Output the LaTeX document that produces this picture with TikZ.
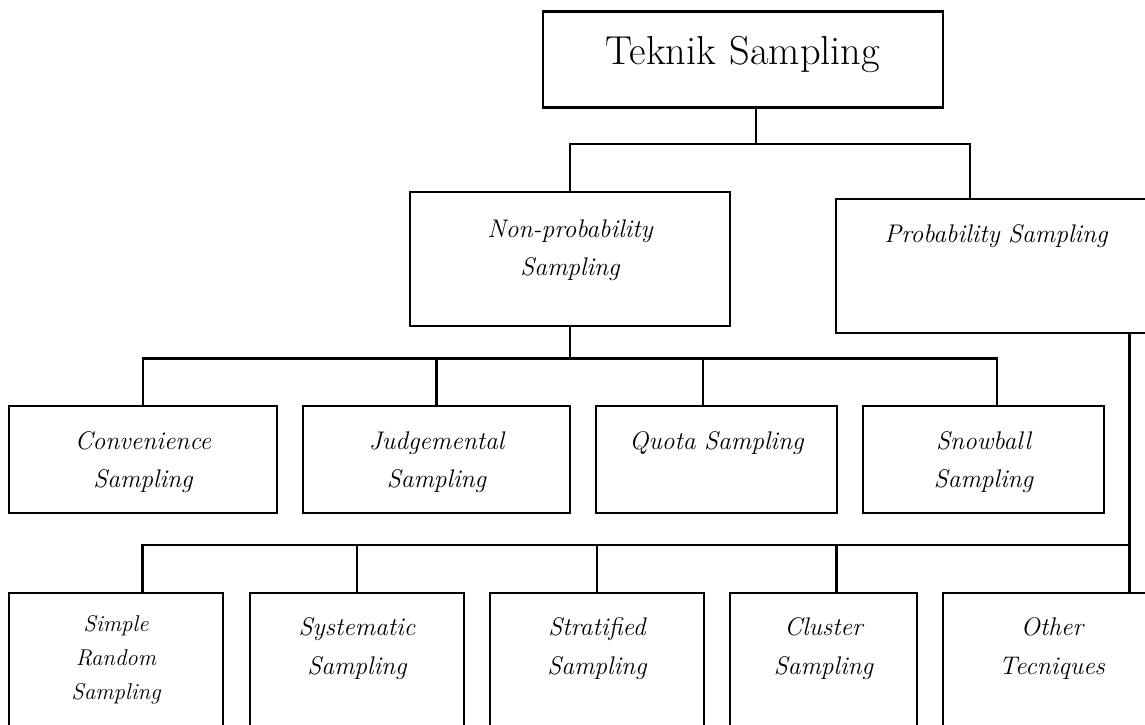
\documentclass[tikz,border=0pt]{standalone}
\begin{document}
\begin{tikzpicture}[
  box/.style={draw, line width=1.2pt, anchor=north, align=center, inner sep=0pt,
    text width=#1, text height=0.86cm, font=\itshape\fontsize{14.5}{22}\selectfont},
  link/.style={line width=1.2pt}]
\useasboundingbox (0,0) rectangle (22.9,14.48);
\clip (0,0) rectangle (22.9,14.48);
% top
\node[box=8.01cm, text height=1.05cm, text depth=0.87cm, font=\fontsize{23}{28}\selectfont] (tek) at (14.86,14.27) {Teknik Sampling};
% second level
\node[box=6.41cm, text height=0.9cm, text depth=1.78cm] (np) at (11.40,10.66) {Non-probability\\ Sampling};
\node[box=6.40cm, text depth=1.81cm] (ps) at (19.92,10.52) {Probability Sampling};
% non-probability methods
\node[box=5.36cm, text depth=1.27cm] (conv) at (2.86,6.38) {Convenience\\ Sampling};
\node[box=5.33cm, text depth=1.27cm] (judg) at (8.73,6.38) {Judgemental\\ Sampling};
\node[box=4.83cm, text depth=1.27cm] (quota) at (14.33,6.38) {Quota Sampling};
\node[box=4.81cm, text depth=1.27cm] (snow) at (19.67,6.38) {Snowball\\ Sampling};
% probability methods
\node[box=4.27cm, text height=0.77cm, text depth=3cm, font=\itshape\fontsize{13}{19.5}\selectfont] (srs) at (2.32,2.65) {Simple\\ Random\\ Sampling};
\node[box=4.28cm, text depth=3cm] (sys) at (7.14,2.65) {Systematic\\ Sampling};
\node[box=4.27cm, text depth=3cm] (strat) at (11.94,2.65) {Stratified\\ Sampling};
\node[box=3.75cm, text depth=3cm] (clus) at (16.47,2.65) {Cluster\\ Sampling};
\node[box=4.36cm, text depth=3cm] (oth) at (21.04,2.65) {Other\\ Tecniques};
% junctions
\coordinate (t1) at (15.12,11.60);
\coordinate (p1) at (19.40,11.60);
\coordinate (c2) at (2.85,7.31);
\coordinate (q2) at (14.06,7.31);
\coordinate (s2) at (19.94,7.31);
\coordinate (l3) at (2.85,3.58);
\coordinate (k3) at (16.73,3.58);
\coordinate (r3) at (22.59,3.58);
% connectors
\draw[link] (tek.south -| t1) -- (t1);
\draw[link] (np.north) |- (p1) -- (p1 |- ps.north);
\draw[link] (np.south) -- (np.south |- c2);
\draw[link] (conv.north) |- (s2) -- (s2 |- snow.north);
\draw[link] (judg.north) -- (judg.north |- c2);
\draw[link] (q2) -- (q2 |- quota.north);
\draw[link] (ps.south -| r3) -- (r3) -- (r3 |- oth.north);
\draw[link] (l3 |- srs.north) -- (l3) -- (r3);
\draw[link] (sys.north) -- (sys.north |- l3);
\draw[link] (strat.north) -- (strat.north |- l3);
\draw[link] (k3) -- (k3 |- clus.north);
\end{tikzpicture}
\end{document}
